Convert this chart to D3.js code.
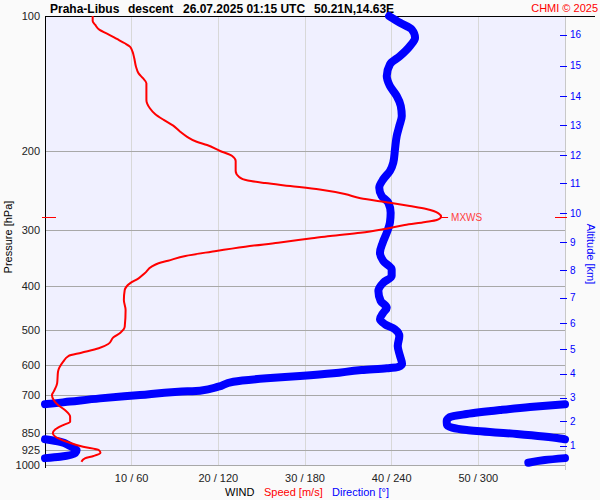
<!DOCTYPE html>
<html><head><meta charset="utf-8">
<script src="https://cdn.jsdelivr.net/npm/d3@7"></script>
<style>
body{margin:0;background:#fafafa;}
svg{display:block;font-family:"Liberation Sans",Arial,Helvetica,sans-serif;}
</style>
</head><body><div id="chart"></div>
<script>
// ---------- data ----------
const pressureTicks = [100, 200, 300, 400, 500, 600, 700, 850, 925, 1000];
const speedTicks = [10, 20, 30, 40, 50];
const directionTicks = [60, 120, 180, 240, 300];
const altitudeKm = [1, 2, 3, 4, 5, 6, 7, 8, 9, 10, 11, 12, 13, 14, 15, 16];
const altitudePressure = [905, 800, 709, 626, 552, 484, 424, 368, 319, 275, 236, 204, 175, 151, 129, 110];

const speedPressure = [100,102.6,104.7,107.4,109.3,112.5,115.0,117.0,120.1,124.2,129.7,134.2,137.6,141.2,148.6,153.8,160.5,165.3,170.4,175.5,181.0,185.8,190.6,193.8,199.8,205.0,210.4,221.4,228.3,232.5,235.5,239.1,243.5,249.2,254.7,260.5,265.0,269.1,275.1,279.9,284.7,287.7,292.2,298.6,303.9,309.0,312.7,319.8,326.4,334.9,342.3,350.7,355.4,361.7,374.2,383.9,393.9,407.7,429.1,451.7,492.0,507.4,519.5,537.7,549.7,562.2,571.8,588.8,619.9,657.7,686.6,698.4,716.6,735.2,754.4,780.7,801.1,814.7,832.9,850.1,865.0,887.5,910.5,926.1,939.0,955.0,966.3,983.3];
const speedValues = [5.5,5.5,5.8,6.3,7.1,8.3,9.2,9.8,10.1,10.3,10.5,10.8,11.3,11.7,11.7,11.7,12.1,12.7,13.7,14.8,15.6,16.4,17.5,18.7,20.2,21.6,22.0,22.0,22.4,23.4,25.4,28.3,31.7,34.6,36.4,39.8,42.1,44.0,45.4,45.7,45.2,43.9,41.5,39.0,36.4,32.9,30.8,26.9,23.1,19.2,16.2,14.2,13.1,12.3,11.5,10.8,9.8,9.2,9.1,9.3,9.2,8.7,7.9,7.3,6.2,4.2,2.7,2.1,1.5,1.4,1.0,0.8,1.0,1.5,2.3,2.9,2.9,2.1,1.2,0.9,1.2,2.5,4.4,6.2,6.4,5.6,4.6,4.2];

const directionPressure = [100,103.5,107.1,111.8,116.6,122.8,128.1,136.0,143.2,150.7,158.6,167.0,175.8,185.0,198.1,212.3,221.4,231.0,241.2,251.7,260.5,274.2,288.6,303.9,319.8,336.6,351.3,366.6,379.5,392.6,409.7,431.3,446.4,458.0,473.8,486.1,498.7,516.2,543.3,571.8,595.7,605.0,609.0,614.4,624.9,633.6,641.1,652.4,669.4,683.3,686.8,698.6,710.6,722.4,731.6,742.6,754.4,770.0,781.9,798.1,814.6,835.9,853.1,873.0,887.5,907.3,926.1,941.8,958.3,975.0,988.3];
const directionValues = [238.2,245.8,253.9,256.2,252.7,245.8,238.8,236.6,238.8,243.5,246.3,247.0,245.3,243.5,242.3,241.1,238.8,234.2,231.4,233.1,237.7,239.3,238.8,236.6,233.8,231.9,234.2,240.0,240.0,234.2,230.8,232.4,236.6,234.2,231.9,235.4,242.3,245.3,244.2,245.8,247.2,244.4,236.6,219.2,199.6,176.5,153.5,130.4,120.0,107.3,92.3,65.8,38.1,17.3,1.0,335.8,315.0,291.9,280.4,278.1,278.3,291.9,326.6,356.5,10.4,17.3,21.9,20.8,10.4,346,334.6];

const maxWindPressure = 280;
const maxWindSpeed = 45.7;

// ---------- layout ----------
const W = 600, H = 500;
const L = 45, R = 565, T = 16, B = 465;

const svg = d3.select("#chart").append("svg").attr("width", W).attr("height", H);
svg.append("rect").attr("width", W).attr("height", H).attr("fill", "#fafafa");

const y = d3.scaleLog().domain([100, 1000]).range([T, B]);
const xSpeed = d3.scaleLinear().domain([0, 60]).range([L, R]);
const xDir = d3.scaleLinear().domain([0, 360]).range([L, R]);

// plot background
svg.append("rect").attr("x", L).attr("y", T).attr("width", R - L).attr("height", B - T).attr("fill", "#f0f0ff");

// vertical grid
svg.append("g").selectAll("line").data(speedTicks).join("line")
  .attr("x1", d => xSpeed(d)).attr("x2", d => xSpeed(d))
  .attr("y1", T).attr("y2", B)
  .attr("stroke", "#d8d8d8").attr("stroke-width", 1).attr("shape-rendering", "crispEdges");

// horizontal grid
svg.append("g").selectAll("line").data(pressureTicks.filter(p => p > 100)).join("line")
  .attr("x1", L).attr("x2", R)
  .attr("y1", d => Math.round(y(d)) + 0.5).attr("y2", d => Math.round(y(d)) + 0.5)
  .attr("stroke", "#a8a8a8").attr("stroke-width", 1);

// right border (light)
svg.append("line").attr("x1", R + 0.5).attr("x2", R + 0.5).attr("y1", T).attr("y2", B + 5)
  .attr("stroke", "#c8c8c8");
// top border
svg.append("line").attr("x1", L).attr("x2", 595).attr("y1", T + 0.5).attr("y2", T + 0.5)
  .attr("stroke", "#000");
// left axis
svg.append("line").attr("x1", L + 0.5).attr("x2", L + 0.5).attr("y1", T).attr("y2", B + 3)
  .attr("stroke", "#000");

// left pressure labels
svg.append("g").selectAll("text").data(pressureTicks).join("text")
  .attr("x", 40).attr("y", d => y(d)).attr("dy", "0.35em")
  .attr("text-anchor", "end").attr("font-size", 11).attr("fill", "#222")
  .text(d => d);

// bottom labels
svg.append("g").selectAll("text").data(speedTicks).join("text")
  .attr("x", d => xSpeed(d)).attr("y", 482)
  .attr("text-anchor", "middle").attr("font-size", 11).attr("fill", "#222")
  .text((d, i) => d + " / " + directionTicks[i]);

// altitude axis
const alt = svg.append("g");
alt.selectAll("line").data(altitudeKm).join("line")
  .attr("x1", 560).attr("x2", 567)
  .attr("y1", (d, i) => Math.round(y(altitudePressure[i])) + 0.5)
  .attr("y2", (d, i) => Math.round(y(altitudePressure[i])) + 0.5)
  .attr("stroke", "#0000ff");
alt.selectAll("text").data(altitudeKm).join("text")
  .attr("x", 570).attr("y", (d, i) => y(altitudePressure[i])).attr("dy", "0.35em")
  .attr("font-size", 10).attr("fill", "#0000ff")
  .text(d => d);

// axis titles
svg.append("text").attr("transform", "translate(12,237) rotate(-90)")
  .attr("text-anchor", "middle").attr("font-size", 11).attr("fill", "#000")
  .text("Pressure [hPa]");
svg.append("text").attr("transform", "translate(587,254) rotate(90)")
  .attr("text-anchor", "middle").attr("font-size", 11).attr("fill", "#0000ff")
  .text("Altitude [km]");

const leg = svg.append("text").attr("y", 496).attr("font-size", 11);
leg.append("tspan").attr("x", 225).attr("fill", "#000").text("WIND");
leg.append("tspan").attr("x", 264).attr("fill", "#ff0000").text("Speed [m/s]");
leg.append("tspan").attr("x", 332).attr("fill", "#0000ff").text("Direction [°]");

// title
const title = svg.append("text").attr("y", 13).attr("font-size", 12).attr("font-weight", "bold").attr("fill", "#000");
title.append("tspan").attr("x", 50).text("Praha-Libus");
title.append("tspan").attr("x", 128).text("descent");
title.append("tspan").attr("x", 183).text("26.07.2025 01:15 UTC");
title.append("tspan").attr("x", 314).text("50.21N,14.63E");
svg.append("text").attr("x", 598).attr("y", 12).attr("text-anchor", "end")
  .attr("font-size", 11).attr("fill", "#ff0000").text("CHMI © 2025");

// ---------- direction (blue) ----------
function splitWrap(ps, ds) {
  const segs = [[]];
  for (let i = 0; i < ps.length; i++) {
    if (i > 0) {
      const d0 = ds[i - 1], d1 = ds[i];
      if (Math.abs(d1 - d0) > 180) {
        const d1u = d1 > d0 ? d1 - 360 : d1 + 360;
        const edge = d1 > d0 ? 0 : 360;
        const t = (edge - d0) / (d1u - d0);
        const lp = Math.log(ps[i - 1]) + t * (Math.log(ps[i]) - Math.log(ps[i - 1]));
        const pc = Math.exp(lp);
        segs[segs.length - 1].push({p: pc, d: edge});
        segs.push([{p: pc, d: 360 - edge}]);
      }
    }
    segs[segs.length - 1].push({p: ps[i], d: ds[i]});
  }
  return segs;
}
const dirSegs = splitWrap(directionPressure, directionValues);
const dirLine = d3.line().x(d => xDir(d.d)).y(d => y(d.p)).curve(d3.curveMonotoneY);
svg.append("g").selectAll("path").data(dirSegs).join("path")
  .attr("d", dirLine)
  .attr("fill", "none").attr("stroke", "#0000ff").attr("stroke-width", 8)
  .attr("stroke-linecap", "round").attr("stroke-linejoin", "round");

// ---------- speed (red) ----------
const speedData = speedPressure.map((p, i) => ({p, s: speedValues[i]}));
const speedLine = d3.line().x(d => xSpeed(d.s)).y(d => y(d.p)).curve(d3.curveMonotoneY);
svg.append("path").datum(speedData).attr("d", speedLine)
  .attr("fill", "none").attr("stroke", "#ff0000").attr("stroke-width", 2);

// max wind markers
const ym = Math.round(y(maxWindPressure)) + 0.5;
svg.append("line").attr("x1", 42).attr("x2", 56).attr("y1", ym).attr("y2", ym).attr("stroke", "#ff0000");
svg.append("line").attr("x1", 555).attr("x2", 567).attr("y1", ym).attr("y2", ym).attr("stroke", "#ff0000");
svg.append("line").attr("x1", xSpeed(maxWindSpeed)).attr("x2", xSpeed(maxWindSpeed) + 7)
  .attr("y1", ym).attr("y2", ym).attr("stroke", "#ff0000");
svg.append("text").attr("x", xSpeed(maxWindSpeed) + 10).attr("y", ym).attr("dy", "0.35em")
  .attr("font-size", 10).attr("fill", "#ff4040").text("MXWS");
</script>
</body></html>
